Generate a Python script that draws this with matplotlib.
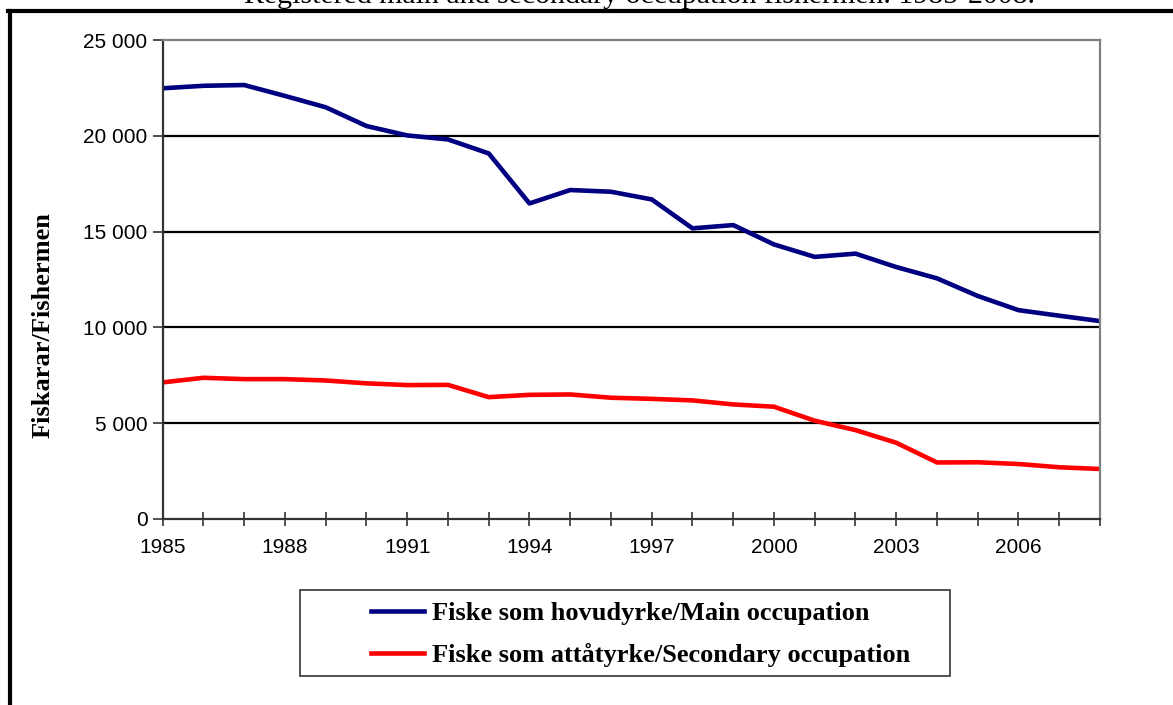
import matplotlib

matplotlib.use('Agg')
import matplotlib.pyplot as plt
from matplotlib.lines import Line2D
from matplotlib.patches import Rectangle

# Data
years = list(range(1985, 2009))
main_occ = [22480, 22610, 22650, 22080, 21490, 20510, 20020, 19810, 19080, 16470,
            17170, 17080, 16680, 15170, 15340, 14330, 13680, 13850, 13150, 12560,
            11640, 10900, 10610, 10330]
second_occ = [7130, 7370, 7300, 7300, 7230, 7080, 6990, 7000, 6360, 6480,
              6500, 6330, 6270, 6190, 5980, 5860, 5130, 4640, 3980, 2950,
              2960, 2870, 2700, 2610]
label_years = list(range(1985, 2009, 3))

title = 'Registered main and secondary occupation fishermen. 1985-2008.'
ylabel = 'Fiskarar/Fishermen'
main_label = 'Fiske som hovudyrke/Main occupation'
second_label = 'Fiske som attåtyrke/Secondary occupation'

W, H = 1173, 705
fig = plt.figure(figsize=(W / 100, H / 100), dpi=100)
ax = fig.add_axes([162.7 / W, 1 - 519 / H, (1100 - 162.7) / W, (519 - 40) / H])

ax.plot(years, main_occ, color='#000080', lw=3.3, label=main_label)
ax.plot(years, second_occ, color='#FF0000', lw=3.3, label=second_label)

ax.set_xlim(1985, 2008)
ax.set_ylim(0, 25000)
ax.set_yticks(range(0, 25001, 5000))
ax.set_yticklabels(['0' if v == 0 else f'{v:,}'.replace(',', ' ') for v in range(0, 25001, 5000)])
ax.set_xticks(years)
ax.set_xticklabels([str(y) if y in label_years else '' for y in years])

for v in range(5000, 25000, 5000):
    ax.axhline(v, color='black', lw=1.6, zorder=1)

for s in ['top', 'right']:
    ax.spines[s].set_color('#808080')
    ax.spines[s].set_linewidth(1.6)
for s in ['left', 'bottom']:
    ax.spines[s].set_color('#333333')
    ax.spines[s].set_linewidth(1.6)

ax.tick_params(axis='y', direction='out', length=7, width=1.2, color='#333333',
               labelsize=15, pad=4)
ax.tick_params(axis='x', direction='inout', length=10, width=1.2, color='#333333',
               labelsize=15, pad=9)
for lab in ax.get_xticklabels() + ax.get_yticklabels():
    lab.set_family('Liberation Sans')

fig.text(43 / W, 1 - 325 / H, ylabel, family='Liberation Serif', fontweight='bold',
         fontsize=19, rotation=90, ha='center', va='center')

# Legend below the plot, box drawn separately
fig.add_artist(Rectangle((300 / W, 1 - 676 / H), 650 / W, 86 / H, transform=fig.transFigure,
                         facecolor='white', edgecolor='#333333', lw=1.2))
leg = fig.legend(loc='center left', bbox_to_anchor=(371 / W, 1 - 634.5 / H),
                 prop={'family': 'Liberation Serif', 'weight': 'bold', 'size': 19},
                 frameon=False, handlelength=2.0, handletextpad=0.3,
                 borderpad=0, labelspacing=0.7, borderaxespad=0)
for h in leg.get_lines():
    h.set_linewidth(3.3)

# Title, mostly cut off by the top edge
fig.text(639 / W, 1 - 9 / H, title, family='Liberation Serif', fontsize=21.5,
         ha='center', va='bottom')

# Outer frame
fig.add_artist(Line2D([8 / W, 1], [1 - 11 / H, 1 - 11 / H], color='black', lw=3,
                      transform=fig.transFigure))
fig.add_artist(Line2D([9.5 / W, 9.5 / W], [0, 1 - 11 / H], color='black', lw=3,
                      transform=fig.transFigure))

fig.savefig('out.png', dpi=100)
